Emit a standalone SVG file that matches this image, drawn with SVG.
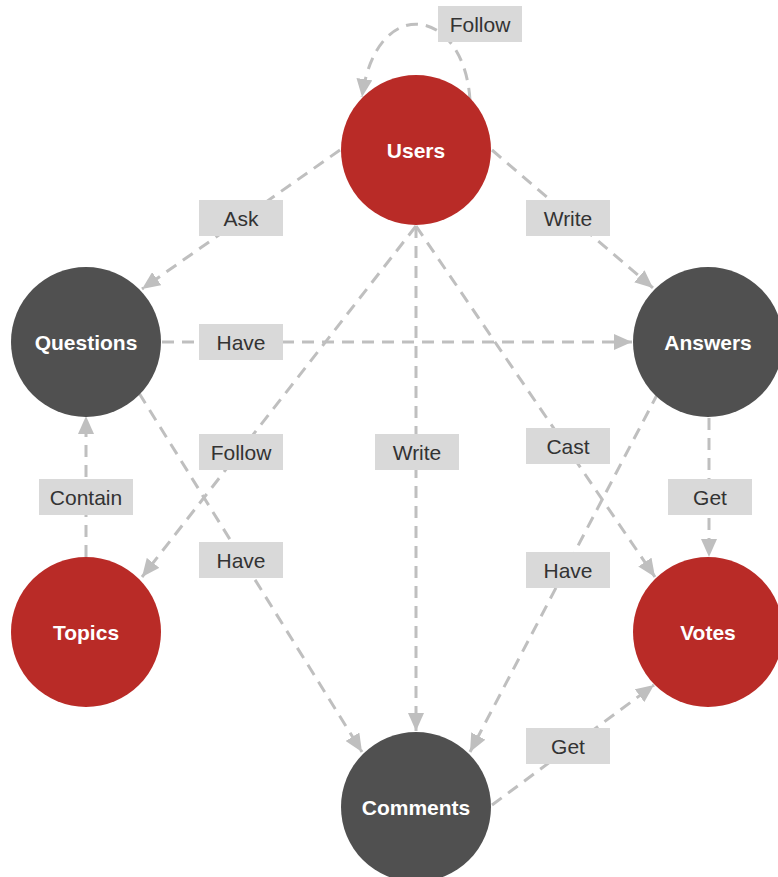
<svg xmlns="http://www.w3.org/2000/svg" width="778" height="877" viewBox="0 0 778 877">
<style>
.edge{fill:none;stroke:#bfbfbf;stroke-width:3;stroke-dasharray:12 8;marker-end:url(#arr)}
.lbl rect{fill:#d9d9d9}
.lbl text{font-family:"Liberation Sans",Arial,sans-serif;font-size:21px;fill:#333;text-anchor:middle}
.node text{font-family:"Liberation Sans",Arial,sans-serif;font-size:21px;font-weight:bold;fill:#fff;text-anchor:middle}
.red{fill:#b92b27}
.dark{fill:#505050}
</style>
<defs>
<marker id="arr" markerUnits="userSpaceOnUse" markerWidth="18" markerHeight="16" refX="18" refY="8" orient="auto">
<path d="M0,0 L18,8 L0,16 z" fill="#bfbfbf"/>
</marker>
</defs>
<rect width="778" height="877" fill="#fff"/>
<g id="connectors">
<path class="edge" d="M470,100 C464,6 376,-7 362,97"/>
<path class="edge" d="M340,150 L142,289"/>
<path class="edge" d="M492,150 L653,288"/>
<path class="edge" d="M162,342 L632,342"/>
<path class="edge" d="M416,226 L142,577"/>
<path class="edge" d="M416,226 L416,731"/>
<path class="edge" d="M416,226 L655,577"/>
<path class="edge" d="M709,418 L709,557"/>
<path class="edge" d="M658,393 L470,752"/>
<path class="edge" d="M139,393 L362,752"/>
<path class="edge" d="M86,557 L86,416"/>
<path class="edge" d="M492,805 L654,685"/>
<g class="lbl"><rect x="438" y="6" width="84" height="36"/><text x="480" y="31.5">Follow</text></g>
<g class="lbl"><rect x="199" y="200" width="84" height="36"/><text x="241" y="225.5">Ask</text></g>
<g class="lbl"><rect x="526" y="200" width="84" height="36"/><text x="568" y="225.5">Write</text></g>
<g class="lbl"><rect x="199" y="324" width="84" height="36"/><text x="241" y="349.5">Have</text></g>
<g class="lbl"><rect x="199" y="434" width="84" height="36"/><text x="241" y="459.5">Follow</text></g>
<g class="lbl"><rect x="375" y="434" width="84" height="36"/><text x="417" y="459.5">Write</text></g>
<g class="lbl"><rect x="526" y="428" width="84" height="36"/><text x="568" y="453.5">Cast</text></g>
<g class="lbl"><rect x="39" y="479" width="94" height="36"/><text x="86" y="504.5">Contain</text></g>
<g class="lbl"><rect x="668" y="479" width="84" height="36"/><text x="710" y="504.5">Get</text></g>
<g class="lbl"><rect x="199" y="542" width="84" height="36"/><text x="241" y="567.5">Have</text></g>
<g class="lbl"><rect x="526" y="552" width="84" height="36"/><text x="568" y="577.5">Have</text></g>
<g class="lbl"><rect x="526" y="728" width="84" height="36"/><text x="568" y="753.5">Get</text></g>
</g>
<g id="users" class="node"><circle class="red" cx="416" cy="150" r="75"/><text x="416" y="157.5">Users</text></g>
<g id="questions" class="node"><circle class="dark" cx="86" cy="342" r="75"/><text x="86" y="349.5">Questions</text></g>
<g id="answers" class="node"><circle class="dark" cx="708" cy="342" r="75"/><text x="708" y="349.5">Answers</text></g>
<g id="topics" class="node"><circle class="red" cx="86" cy="632" r="75"/><text x="86" y="639.5">Topics</text></g>
<g id="votes" class="node"><circle class="red" cx="708" cy="632" r="75"/><text x="708" y="639.5">Votes</text></g>
<g id="comments" class="node"><circle class="dark" cx="416" cy="807" r="75"/><text x="416" y="814.5">Comments</text></g>
</svg>
